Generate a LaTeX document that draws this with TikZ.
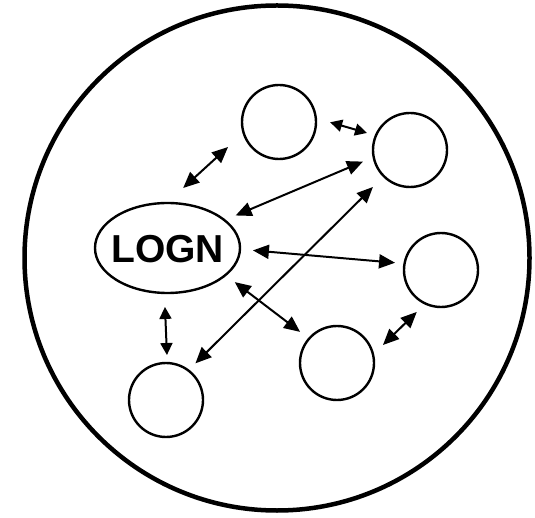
\documentclass[tikz,border=0pt]{standalone}
\usepackage{fontspec}
\setmainfont{Liberation Sans}
\usetikzlibrary{arrows.meta,shapes.geometric}
\begin{document}
\begin{tikzpicture}[x=1pt,y=-1pt,
  blob/.style={circle,draw,line width=2.4pt,minimum size=74pt,inner sep=0pt,outer sep=0pt},
  conn/.style={{Triangle[length=16pt,width=14pt]}-{Triangle[length=16pt,width=14pt]},line width=2pt},
  smallconn/.style={{Triangle[length=12pt,width=12pt]}-{Triangle[length=12pt,width=12pt]},line width=2pt}]
\useasboundingbox (0,0) rectangle (535,518);
\node[circle,draw,line width=4.5pt,minimum size=505pt,inner sep=0pt] (outer) at (277,258) {};
\node[ellipse,draw,line width=2.4pt,minimum width=145pt,minimum height=90pt,inner sep=0pt,outer sep=0pt] (L) at (167.5,248) {};
\node[font=\bfseries\fontsize{39}{39}\selectfont,inner sep=0pt] (Ltxt) at (167.5,249) {LOGN};
\node[blob] (T) at (279,122) {};
\node[blob] (UR) at (410,150) {};
\node[blob] (R) at (441,270) {};
\node[blob] (BM) at (337,363) {};
\node[blob] (BL) at (166,400) {};
\draw[conn,shorten <=22.3pt,shorten >=21.1pt] (L.91) -- (T.197);
\draw[smallconn,shorten <=14.9pt,shorten >=9.3pt] (T.6.5) -- (UR.157.2);
\draw[conn,shorten <=12.1pt,shorten >=11.65pt] (L.26.8) -- (UR.191.8);
\draw[conn,shorten <=10.1pt,shorten >=15.35pt] (BL.53.9) -- (UR.225.1);
\draw[conn,shorten <=13pt,shorten >=9.55pt] (L.359.4) -- (R.170.5);
\draw[conn,shorten <=11.7pt,shorten >=11.3pt] (L.335.2) -- (BM.139.3);
\draw[smallconn,shorten <=14pt,shorten >=8pt] (L.266) -- (BL.88);
\draw[conn,shorten <=13.85pt,shorten >=12pt] (BM.13.1) -- (R.245.4);
\end{tikzpicture}
\end{document}
